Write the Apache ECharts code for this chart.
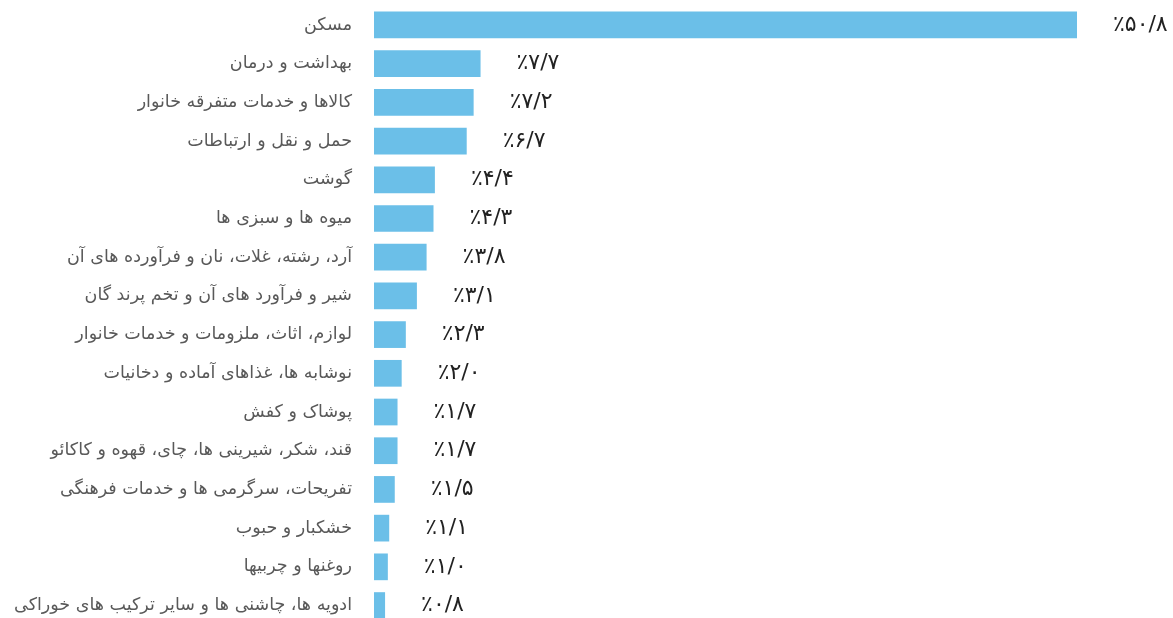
<!DOCTYPE html>
<html>
<head>
<meta charset="utf-8">
<script src="https://cdn.jsdelivr.net/npm/echarts@6/dist/echarts.min.js"></script>
<style>
  html, body { margin: 0; padding: 0; background: #fff; }
  #main { width: 1173px; height: 618px; }
</style>
</head>
<body>
<div id="main"></div>
<script>
// categories, top to bottom
var categories = [
    'مسکن',
    'بهداشت و درمان',
    'کالاها و خدمات متفرقه خانوار',
    'حمل و نقل و ارتباطات',
    'گوشت',
    'میوه ها و سبزی ها',
    'آرد، رشته، غلات، نان و فرآورده های آن',
    'شیر و فرآورد های آن و تخم پرند گان',
    'لوازم، اثاث، ملزومات و خدمات خانوار',
    'نوشابه ها، غذاهای آماده و دخانیات',
    'پوشاک و کفش',
    'قند، شکر، شیرینی ها، چای، قهوه و کاکائو',
    'تفریحات، سرگرمی ها و خدمات فرهنگی',
    'خشکبار و حبوب',
    'روغنها و چربیها',
    'ادویه ها، چاشنی ها و سایر ترکیب های خوراکی'
];
// share in percent
var shares = [50.8, 7.7, 7.2, 6.7, 4.4, 4.3, 3.8, 3.1, 2.3, 2.0, 1.7, 1.7, 1.5, 1.1, 1.0, 0.8];

var faDigits = '۰۱۲۳۴۵۶۷۸۹';
function toFa(v) {
    var s = v.toFixed(1).replace('.', '/');
    return '٪' + s.replace(/[0-9]/g, function (d) { return faDigits[+d]; });
}

var myChart = echarts.init(document.getElementById('main'));

var option = {
    animation: false,
    grid: {
        left: 374,
        width: 703,
        top: 5.6,
        height: 619.3,
        outerBoundsMode: 'none',
        containLabel: false
    },
    xAxis: {
        type: 'value',
        min: 0,
        max: 50.8,
        show: false
    },
    yAxis: {
        type: 'category',
        inverse: true,
        data: categories,
        axisLine: { show: false },
        axisTick: { show: false },
        axisLabel: {
            margin: 22,
            color: '#595959',
            fontSize: 17.5,
            fontFamily: 'DejaVu Sans'
        }
    },
    series: [
        {
            type: 'bar',
            data: shares,
            barCategoryGap: '31%',
            itemStyle: { color: '#6bbfe8' },
            label: {
                show: true,
                position: 'right',
                distance: 36,
                color: '#222',
                fontSize: 22,
                fontFamily: 'DejaVu Sans',
                formatter: function (p) { return toFa(p.value); }
            }
        }
    ]
};

myChart.setOption(option);
</script>
</body>
</html>
